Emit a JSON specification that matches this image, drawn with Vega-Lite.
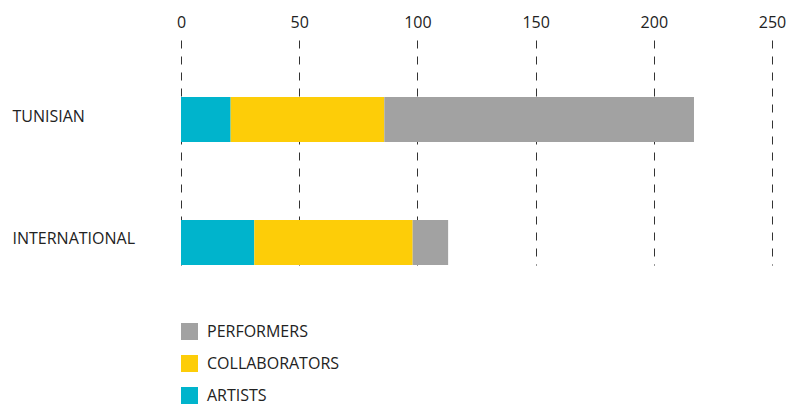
{
  "$schema": "https://vega.github.io/schema/vega-lite/v6.json",
  "width": 591,
  "height": 225,
  "autosize": "none",
  "padding": {"left": 181, "top": 40, "right": 15, "bottom": 141},
  "background": "white",
  "config": {"view": {"stroke": null}, "font": "Open Sans"},
  "data": {
    "values": [
      {"group": "TUNISIAN", "role": "ARTISTS", "value": 21},
      {"group": "TUNISIAN", "role": "COLLABORATORS", "value": 65},
      {"group": "TUNISIAN", "role": "PERFORMERS", "value": 131},
      {"group": "INTERNATIONAL", "role": "ARTISTS", "value": 31},
      {"group": "INTERNATIONAL", "role": "COLLABORATORS", "value": 67},
      {"group": "INTERNATIONAL", "role": "PERFORMERS", "value": 15}
    ]
  },
  "transform": [
    {"calculate": "indexof(['ARTISTS','COLLABORATORS','PERFORMERS'], datum.role)", "as": "stackOrder"}
  ],
  "mark": {"type": "bar"},
  "encoding": {
    "y": {
      "field": "group",
      "type": "nominal",
      "sort": ["TUNISIAN", "INTERNATIONAL"],
      "scale": {"paddingInner": 0.634, "paddingOuter": 0.2317, "align": 1},
      "axis": {
        "title": null,
        "domain": false,
        "ticks": false,
        "tickSize": 0,
        "labelAlign": "left",
        "labelPadding": 169,
        "labelOffset": -3,
        "labelFontSize": 16,
        "labelColor": "#222222",
        "labelFont": "Open Sans"
      }
    },
    "x": {
      "field": "value",
      "type": "quantitative",
      "stack": "zero",
      "scale": {"domain": [0, 250], "nice": false},
      "axis": {
        "orient": "top",
        "title": null,
        "domain": false,
        "ticks": false,
        "tickSize": 0,
        "values": [0, 50, 100, 150, 200, 250],
        "labelPadding": 10,
        "labelFontSize": 16,
        "labelColor": "#222222",
        "labelFont": "Open Sans",
        "grid": true,
        "gridColor": "#333333",
        "gridDash": [8, 8],
        "gridWidth": 1,
        "labelFlush": false
      }
    },
    "color": {
      "field": "role",
      "type": "nominal",
      "scale": {
        "domain": ["PERFORMERS", "COLLABORATORS", "ARTISTS"],
        "range": ["#A2A2A2", "#FDCD08", "#00B4CC"]
      },
      "legend": {
        "title": null,
        "orient": "none",
        "legendX": 0,
        "legendY": 283,
        "direction": "vertical",
        "symbolType": "square",
        "symbolSize": 289,
        "symbolStrokeWidth": 0,
        "symbolOpacity": 1,
        "rowPadding": 15,
        "labelOffset": 9,
        "labelFontSize": 16,
        "labelColor": "#222222",
        "labelFont": "Open Sans"
      }
    },
    "order": {"field": "stackOrder", "type": "quantitative"}
  }
}
